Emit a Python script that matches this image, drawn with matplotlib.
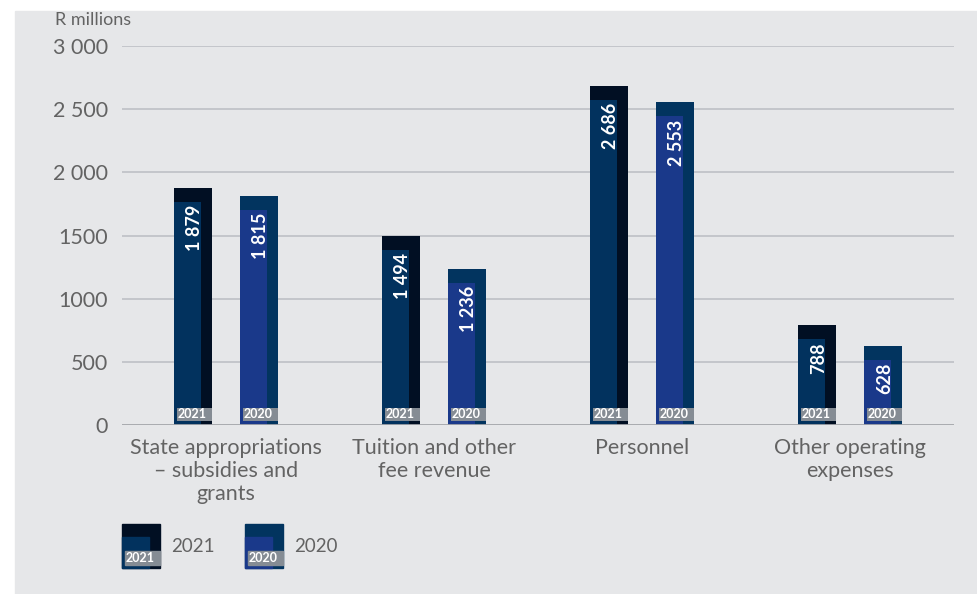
import matplotlib
matplotlib.use("Agg")
import matplotlib.pyplot as plt
from matplotlib.patches import Rectangle

# data
categories = [
    "State appropriations\n– subsidies and\ngrants",
    "Tuition and other\nfee revenue",
    "Personnel",
    "Other operating\nexpenses",
]
years = ["2021", "2020"]
values_2021 = [1879, 1494, 2686, 788]
values_2020 = [1815, 1236, 2553, 628]
labels_2021 = ["1 879", "1 494", "2 686", "788"]
labels_2020 = ["1 815", "1 236", "2 553", "628"]
yticks = [0, 500, 1000, 1500, 2000, 2500, 3000]
ytick_labels = ["0", "500", "1000", "1500", "2 000", "2 500", "3 000"]

OUTER = {"2021": "#010f23", "2020": "#02345f"}
INNER = {"2021": "#02325e", "2020": "#1a398a"}
TAG = "#858c94"
TXT = "#636363"
BG = "#e6e7e9"

plt.rcParams["font.family"] = ["Lato", "DejaVu Sans"]

W, H, DPI = 977, 594, 100
fig = plt.figure(figsize=(W / DPI, H / DPI), dpi=DPI, facecolor="white")
fig.add_artist(Rectangle((15 / W, 0), (W - 15) / W, (H - 11) / H,
                         transform=fig.transFigure, color=BG, zorder=-10))

# axes geometry in pixels
ax_l, ax_r, ax_y0, ax_y1 = 122, 954, 425, 46
ax = fig.add_axes([ax_l / W, (H - ax_y0) / H, (ax_r - ax_l) / W, (ax_y0 - ax_y1) / H])
ax.set_facecolor("none")
ax.set_xlim(-0.5, 3.5)
ax.set_ylim(0, 3000)
ppx = (ax_r - ax_l) / 4.0          # pixels per x unit
ppy = (ax_y0 - ax_y1) / 3000.0     # pixels per y unit

for s in ax.spines.values():
    s.set_visible(False)
ax.set_yticks(yticks, ytick_labels)
ax.tick_params(axis="y", length=0, pad=10, labelsize=15.5, labelcolor=TXT)
ax.set_xticks([])
for y in yticks[1:]:
    ax.axhline(y, color="#c4c6cb", lw=1.4, zorder=1)
ax.axhline(0, color="#a3a5aa", lw=2.0, zorder=6)

bw, iw = 38 / ppx, 27 / ppx


def draw_bar(xc, val, year, label):
    left = xc - bw / 2
    ax.bar(left, val, width=bw, align="edge", color=OUTER[year], zorder=3)
    ax.bar(left, val - 14 / ppy, width=iw, align="edge", color=INNER[year], zorder=4)
    ax.bar(left + 3 / ppx, 13 / ppy, bottom=4 / ppy, width=bw - 3 / ppx,
           align="edge", color=TAG, zorder=5)
    ax.text(left + 4 / ppx, 10.5 / ppy, year, color="white", fontsize=9,
            fontweight="bold", ha="left", va="center", zorder=7)
    ax.text(xc + 2 / ppx, val - 17 / ppy, label, rotation=90, color="white",
            fontsize=13, fontweight="bold", ha="center", va="top", zorder=7)


off = 33 / ppx
for i, cat in enumerate(categories):
    draw_bar(i - off, values_2021[i], "2021", labels_2021[i])
    draw_bar(i + off, values_2020[i], "2020", labels_2020[i])
    ax.text(i, -13 / ppy, cat, ha="center", va="top", fontsize=15.5,
            color=TXT, linespacing=1.2)

fig.text(55 / W, 1 - 20 / H, "R millions", fontsize=13,
         color=TXT, ha="left", va="center")

# legend drawn in pixel coords
lg = fig.add_axes([0, 0, 1, 1])
lg.set_xlim(0, W)
lg.set_ylim(H, 0)
lg.axis("off")
lg.set_facecolor("none")
for x0, year in [(122, "2021"), (245, "2020")]:
    lg.add_patch(Rectangle((x0, 524), 38, 44, color=OUTER[year]))
    lg.add_patch(Rectangle((x0, 537), 27, 31, color=INNER[year]))
    lg.add_patch(Rectangle((x0 + 3, 551), 35, 14, color=TAG))
    lg.text(x0 + 4, 558.5, year, color="white", fontsize=9, fontweight="bold",
            ha="left", va="center")
    lg.text(x0 + 49, 546, year, color=TXT, fontsize=13.5,
            ha="left", va="center")

fig.savefig("out.png", dpi=DPI, facecolor=fig.get_facecolor())
